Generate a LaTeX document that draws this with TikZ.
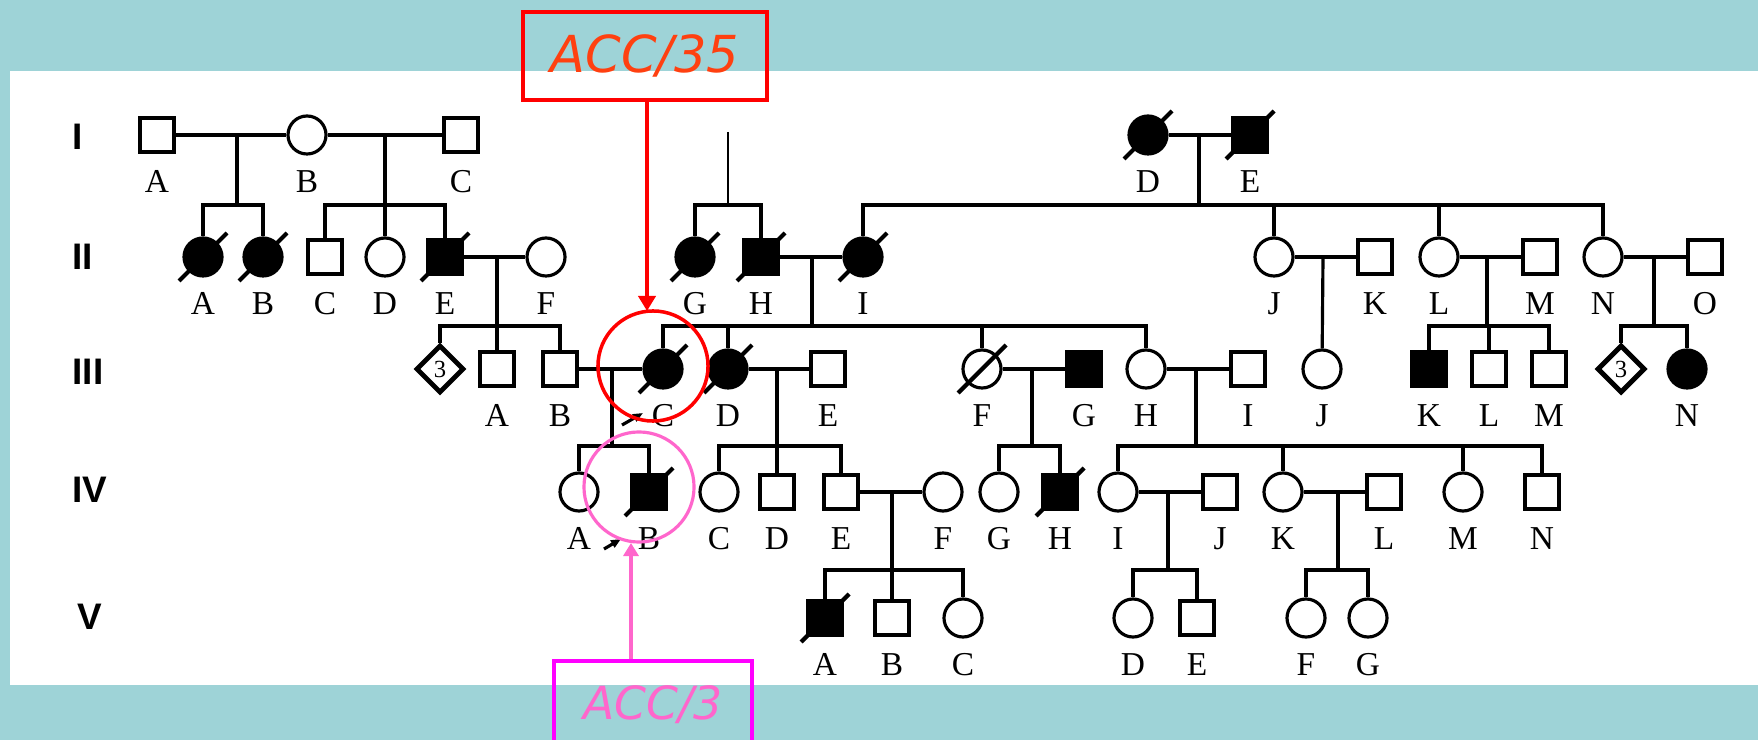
\documentclass[tikz,border=0pt]{standalone}
\usepackage{fontspec}
\setmainfont{Liberation Serif}
\setsansfont{Liberation Sans}
\newfontfamily\accfont{DejaVu Sans}
\usetikzlibrary{shapes.geometric,arrows.meta}
\definecolor{pg-teal}{RGB}{158,211,215}
\definecolor{pg-red}{RGB}{255,0,0}
\definecolor{pg-orange}{RGB}{255,64,16}
\definecolor{pg-pink}{RGB}{255,102,204}
\definecolor{pg-magenta}{RGB}{255,0,255}

\begin{document}
\begin{tikzpicture}[x=0.01cm, y=-0.01cm,
    male/.style={rectangle, draw, line width=0.9pt, minimum size=0.34cm, inner sep=0pt},
    female/.style={circle, draw, line width=0.9pt, minimum size=0.38cm, inner sep=0pt},
    unknown/.style={diamond, draw, line width=1.4pt, minimum size=0.48cm, inner sep=0pt, font=\fontsize{7}{7}\selectfont},
    aff/.style={fill=black},
    lab/.style={label={[yshift=-0.46cm, font=\fontsize{9.5}{10}\selectfont, inner sep=0pt, text height=6.3pt, text depth=0pt]center:#1}},
    gen/.style={anchor=west, inner sep=0pt, font=\sffamily\bfseries\fontsize{10.5}{11}\selectfont},
    link/.style={line width=0.9pt},
    slash/.style={line width=1.2pt},
    proband/.style={line width=0.9pt, -{Triangle[length=0.1cm, width=0.08cm]}},
    accbox/.style={minimum height=0.88cm}]

    \useasboundingbox (0,0) rectangle (1758,740);
    \clip (0,0) rectangle (1758,740);
    \fill[pg-teal] (0,0) rectangle (1758,740);
    \fill[white] (10,71) rectangle (1758,685);

    % generations
    \node[gen] (gI) at (72,137) {I};
    \node[gen] (gII) at (72,257) {II};
    \node[gen] (gIII) at (72,372) {III};
    \node[gen] (gIV) at (72,490) {IV};
    \node[gen] (gV) at (77,617) {V};

    % generation I
    \node[male, lab=A] (I-A) at (157,135) {};
    \node[female, lab=B] (I-B) at (307,135) {};
    \node[male, lab=C] (I-C) at (461,135) {};
    \node[female, aff, lab=D] (I-D) at (1148,135) {};
    \node[male, aff, lab=E] (I-E) at (1250,135) {};

    % generation II
    \node[female, aff, lab=A] (II-A) at (203,257) {};
    \node[female, aff, lab=B] (II-B) at (263,257) {};
    \node[male, lab=C] (II-C) at (325,257) {};
    \node[female, lab=D] (II-D) at (385,257) {};
    \node[male, aff, lab=E] (II-E) at (445,257) {};
    \node[female, lab=F] (II-F) at (546,257) {};
    \node[female, aff, lab=G] (II-G) at (695,257) {};
    \node[male, aff, lab=H] (II-H) at (761,257) {};
    \node[female, aff, lab=I] (II-I) at (863,257) {};
    \node[female, lab=J] (II-J) at (1274,257) {};
    \node[male, lab=K] (II-K) at (1375,257) {};
    \node[female, lab=L] (II-L) at (1439,257) {};
    \node[male, lab=M] (II-M) at (1540,257) {};
    \node[female, lab=N] (II-N) at (1603,257) {};
    \node[male, lab=O] (II-O) at (1705,257) {};

    % generation III
    \node[unknown] (III-x) at (440,369) {3};
    \node[male, lab=A] (III-A) at (497,369) {};
    \node[male, lab=B] (III-B) at (560,369) {};
    \node[female, aff, lab=C] (III-C) at (663,369) {};
    \node[female, aff, lab=D] (III-D) at (728,369) {};
    \node[male, lab=E] (III-E) at (828,369) {};
    \node[female, lab=F] (III-F) at (982,369) {};
    \node[male, aff, lab=G] (III-G) at (1084,369) {};
    \node[female, lab=H] (III-H) at (1146,369) {};
    \node[male, lab=I] (III-I) at (1248,369) {};
    \node[female, lab=J] (III-J) at (1322,369) {};
    \node[male, aff, lab=K] (III-K) at (1429,369) {};
    \node[male, lab=L] (III-L) at (1489,369) {};
    \node[male, lab=M] (III-M) at (1549,369) {};
    \node[unknown] (III-y) at (1621,369) {3};
    \node[female, aff, lab=N] (III-N) at (1687,369) {};

    % generation IV
    \node[female, lab=A] (IV-A) at (579,492) {};
    \node[male, aff, lab=B] (IV-B) at (649,492) {};
    \node[female, lab=C] (IV-C) at (719,492) {};
    \node[male, lab=D] (IV-D) at (777,492) {};
    \node[male, lab=E] (IV-E) at (841,492) {};
    \node[female, lab=F] (IV-F) at (943,492) {};
    \node[female, lab=G] (IV-G) at (999,492) {};
    \node[male, aff, lab=H] (IV-H) at (1060,492) {};
    \node[female, lab=I] (IV-I) at (1118,492) {};
    \node[male, lab=J] (IV-J) at (1220,492) {};
    \node[female, lab=K] (IV-K) at (1283,492) {};
    \node[male, lab=L] (IV-L) at (1384,492) {};
    \node[female, lab=M] (IV-M) at (1463,492) {};
    \node[male, lab=N] (IV-N) at (1542,492) {};

    % generation V
    \node[male, aff, lab=A] (V-A) at (825,618) {};
    \node[male, lab=B] (V-B) at (892,618) {};
    \node[female, lab=C] (V-C) at (963,618) {};
    \node[female, lab=D] (V-D) at (1133,618) {};
    \node[male, lab=E] (V-E) at (1197,618) {};
    \node[female, lab=F] (V-F) at (1306,618) {};
    \node[female, lab=G] (V-G) at (1368,618) {};

    % couples
    \draw[link] (I-A) -- (I-B);
    \draw[link] (I-B) -- (I-C);
    \draw[link] (I-D) -- (I-E);
    \draw[link] (II-E) -- (II-F);
    \draw[link] (II-H) -- (II-I);
    \draw[link] (II-J) -- (II-K);
    \draw[link] (II-L) -- (II-M);
    \draw[link] (II-N) -- (II-O);
    \draw[link] (III-B) -- (III-C);
    \draw[link] (III-D) -- (III-E);
    \draw[link] (III-F) -- (III-G);
    \draw[link] (III-H) -- (III-I);
    \draw[link] (IV-E) -- (IV-F);
    \draw[link] (IV-I) -- (IV-J);
    \draw[link] (IV-K) -- (IV-L);

    % descent lines
    \coordinate (m1AB) at (237,135);
    \coordinate (m1BC) at (385,135);
    \coordinate (m1DE) at (1199,135);
    \coordinate (m1GH) at (728,132);
    \coordinate (m2EF) at (497,257);
    \coordinate (m2HI) at (812,257);
    \coordinate (m2JK) at (1323,257);
    \coordinate (m2LM) at (1487,257);
    \coordinate (m2NO) at (1654,257);
    \coordinate (m3BC) at (612,369);
    \coordinate (m3DE) at (777,369);
    \coordinate (m3FG) at (1032,369);
    \coordinate (m3HI) at (1196,369);
    \coordinate (m4EF) at (892,492);
    \coordinate (m4IJ) at (1168,492);
    \coordinate (m4KL) at (1338,492);

    \draw[link] (m1AB) -- ++(0,70) coordinate (s1AB);
    \draw[link] (m1BC) -- ++(0,70) coordinate (s1BC);
    \draw[link] (m1DE) -- ++(0,70) coordinate (s1DE);
    \draw[line width=0.7pt] (m1GH) -- ++(0,73) coordinate (s1GH);
    \draw[link] (m2EF) -- ++(0,69) coordinate (s2EF);
    \draw[link] (m2HI) -- ++(0,69) coordinate (s2HI);
    \draw[link] (m2JK) -- (III-J);
    \draw[link] (m2LM) -- ++(0,69) coordinate (s2LM);
    \draw[link] (m2NO) -- ++(0,69) coordinate (s2NO);
    \draw[link] (m3BC) -- ++(0,77) coordinate (s3BC);
    \draw[link] (m3DE) -- ++(0,77) coordinate (s3DE);
    \draw[link] (m3FG) -- ++(0,77) coordinate (s3FG);
    \draw[link] (m3HI) -- ++(0,77) coordinate (s3HI);
    \draw[link] (m4EF) -- ++(0,78) coordinate (s4EF);
    \draw[link] (m4IJ) -- ++(0,78) coordinate (s4IJ);
    \draw[link] (m4KL) -- ++(0,78) coordinate (s4KL);

    % sibships
    \draw[link] (II-A) |- (s1AB) -| (II-B);
    \draw[link] (II-C) |- (s1BC) -| (II-E);
    \draw[link] (II-D) -- (II-D |- s1BC);
    \draw[link] (II-G) |- (s1GH) -| (II-H);
    \draw[link] (II-I) |- (s1DE) -| (II-N);
    \draw[link] (II-J) -- (II-J |- s1DE);
    \draw[link] (II-L) -- (II-L |- s1DE);
    \draw[link] (III-x) |- (s2EF) -| (III-B);
    \draw[link] (III-A) -- (III-A |- s2EF);
    \draw[link] (III-C) |- (s2HI) -| (III-H);
    \draw[link] (III-D) -- (III-D |- s2HI);
    \draw[link] (III-F) -- (III-F |- s2HI);
    \draw[link] (III-K) |- (s2LM) -| (III-M);
    \draw[link] (III-L) -- (III-L |- s2LM);
    \draw[link] (III-y) |- (s2NO) -| (III-N);
    \draw[link] (IV-A) |- (s3BC) -| (IV-B);
    \draw[link] (IV-C) |- (s3DE) -| (IV-E);
    \draw[link] (IV-D) -- (IV-D |- s3DE);
    \draw[link] (IV-G) |- (s3FG) -| (IV-H);
    \draw[link] (IV-I) |- (s3HI) -| (IV-N);
    \draw[link] (IV-K) -- (IV-K |- s3HI);
    \draw[link] (IV-M) -- (IV-M |- s3HI);
    \draw[link] (V-A) |- (s4EF) -| (V-C);
    \draw[link] (V-B) -- (V-B |- s4EF);
    \draw[link] (V-D) |- (s4IJ) -| (V-E);
    \draw[link] (V-F) |- (s4KL) -| (V-G);

    % deceased
    \draw[slash] (I-D) +(-24,24) -- +(24,-24);
    \draw[slash] (I-E) +(-24,24) -- +(24,-24);
    \draw[slash] (II-A) +(-24,24) -- +(24,-24);
    \draw[slash] (II-B) +(-24,24) -- +(24,-24);
    \draw[slash] (II-E) +(-24,24) -- +(24,-24);
    \draw[slash] (II-G) +(-24,24) -- +(24,-24);
    \draw[slash] (II-H) +(-24,24) -- +(24,-24);
    \draw[slash] (II-I) +(-24,24) -- +(24,-24);
    \draw[slash] (III-C) +(-24,24) -- +(24,-24);
    \draw[slash] (III-D) +(-24,24) -- +(24,-24);
    \draw[slash] (III-F) +(-24,24) -- +(24,-24);
    \draw[slash] (IV-B) +(-24,24) -- +(24,-24);
    \draw[slash] (IV-H) +(-24,24) -- +(24,-24);
    \draw[slash] (V-A) +(-24,24) -- +(24,-24);

    % probands
    \draw[proband] (III-C) ++(-41,56) -- ++(21,-12);
    \draw[proband] (IV-B) ++(-45,57) -- ++(17,-10);

    % ACC callouts
    \node[accbox, draw=pg-red, line width=1.2pt, text=pg-orange, minimum width=2.44cm, font=\accfont\itshape\fontsize{14.5}{15}\selectfont] (acc35) at (645,56) {ACC/35};
    \node[circle, draw=pg-red, line width=1pt, minimum size=1.1cm] (ring35) at (653,366) {};
    \coordinate (tip35) at (647,311);
    \draw[pg-red, line width=1.1pt, -{Triangle[length=0.15cm, width=0.17cm]}] (tip35 |- acc35.south) -- (tip35);

    \node[accbox, draw=pg-magenta, line width=0.9pt, text=pg-pink, minimum width=1.98cm, font=\accfont\itshape\fontsize{13}{14}\selectfont] (acc3) at (653,705) {ACC/3};
    \node[circle, draw=pg-pink, line width=0.9pt, minimum size=1.1cm] (ring3) at (639,487) {};
    \coordinate (tip3) at (631,543);
    \draw[pg-pink, line width=0.9pt, -{Triangle[length=0.13cm, width=0.15cm]}] (tip3 |- acc3.north) -- (tip3);
\end{tikzpicture}
\end{document}
